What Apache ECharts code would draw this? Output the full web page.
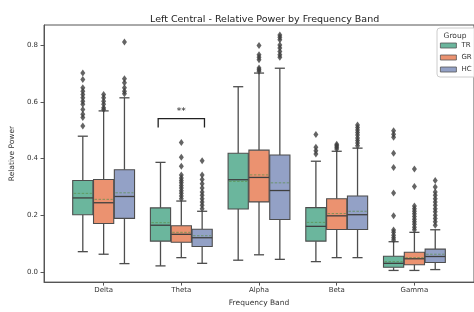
<!DOCTYPE html>
<html>
<head>
<meta charset="utf-8">
<script src="https://cdn.jsdelivr.net/npm/echarts@6/dist/echarts.min.js"></script>
<style>html,body{margin:0;padding:0;background:#fff;}#c{width:474px;height:312px;}</style>
</head>
<body>
<div id="c"></div>
<script>
// ---- data ----
const bands = ['Delta', 'Theta', 'Alpha', 'Beta', 'Gamma'];
const groups = ['TR', 'GR', 'HC'];
const yTicks = [0, 0.2, 0.4, 0.6, 0.8];
// each row: [lowWhisker, Q1, median, Q3, highWhisker, mean]
const trStats = [
  [0.073, 0.203, 0.262, 0.323, 0.479, 0.278],
  [0.023, 0.110, 0.166, 0.227, 0.387, 0.175],
  [0.043, 0.223, 0.326, 0.419, 0.653, 0.320],
  [0.038, 0.110, 0.162, 0.228, 0.391, 0.176],
  [0.007, 0.018, 0.032, 0.057, 0.108, 0.038]
];
const grStats = [
  [0.064, 0.172, 0.245, 0.327, 0.568, 0.257],
  [0.052, 0.106, 0.134, 0.164, 0.251, 0.141],
  [0.062, 0.248, 0.334, 0.430, 0.701, 0.343],
  [0.052, 0.151, 0.199, 0.259, 0.426, 0.207],
  [0.007, 0.027, 0.048, 0.071, 0.141, 0.052]
];
const hcStats = [
  [0.031, 0.190, 0.267, 0.361, 0.614, 0.280],
  [0.032, 0.091, 0.122, 0.152, 0.215, 0.129],
  [0.046, 0.186, 0.288, 0.413, 0.718, 0.315],
  [0.052, 0.151, 0.203, 0.269, 0.437, 0.215],
  [0.010, 0.035, 0.056, 0.082, 0.150, 0.064]
];
const trOut = [
  [0.701, 0.678, 0.649, 0.637, 0.626, 0.614, 0.602, 0.591, 0.573, 0.556, 0.545, 0.515],
  [],
  [],
  [0.485, 0.440, 0.428, 0.416],
  [0.498, 0.486, 0.475, 0.419, 0.369, 0.279, 0.199, 0.149, 0.141, 0.131, 0.122, 0.114]
];
const grOut = [
  [0.626, 0.614, 0.602, 0.591, 0.579, 0.573],
  [0.457, 0.405, 0.373, 0.343, 0.332, 0.323, 0.315, 0.306, 0.297, 0.287, 0.278, 0.269, 0.259],
  [0.798, 0.765, 0.757, 0.748, 0.719, 0.713, 0.707],
  [0.451, 0.445, 0.440, 0.434],
  [0.364, 0.302, 0.234, 0.224, 0.215, 0.206, 0.197, 0.187, 0.178, 0.169, 0.159, 0.150]
];
const hcOut = [
  [0.810, 0.681, 0.667, 0.649, 0.637, 0.628],
  [0.393, 0.343, 0.327, 0.312, 0.297, 0.283, 0.271, 0.259, 0.248, 0.236, 0.224],
  [0.835, 0.827, 0.818, 0.800, 0.789, 0.777, 0.765, 0.757],
  [0.518, 0.510, 0.501, 0.492, 0.483, 0.473, 0.464, 0.455, 0.445],
  [0.323, 0.300, 0.283, 0.271, 0.259, 0.248, 0.236, 0.224, 0.213, 0.201, 0.190, 0.178, 0.166]
];
// significance annotation
const sigBand = 'Theta';
const sigLabel = '**';
const sigTop = 0.541;
const sigBottom = 0.510;

// ---- styles ----
const colors = ['#6bb69d', '#eb9270', '#93a1c6'];
const lineColor = '#4d4d4d';
const font = 'DejaVu Sans';
const hueOffset = [-0.268, 0, 0.268];
const boxW = 0.26;

const allStats = [trStats, grStats, hcStats];
const allOut = [trOut, grOut, hcOut];

function renderBox(gi) {
  return function (params, api) {
    const x = api.value(0);
    const lo = api.value(1), q1 = api.value(2), med = api.value(3), q3 = api.value(4), hi = api.value(5), mean = api.value(6);
    const px = api.coord([x, 0])[0];
    const hw = api.size([boxW, 0])[0] / 2;
    const cw = hw / 2;
    const Y = v => api.coord([x, v])[1];
    const ls = { stroke: lineColor, lineWidth: 1.3 };
    return {
      type: 'group',
      children: [
        { type: 'line', shape: { x1: px, y1: Y(q3), x2: px, y2: Y(hi) }, style: ls },
        { type: 'line', shape: { x1: px, y1: Y(q1), x2: px, y2: Y(lo) }, style: ls },
        { type: 'line', shape: { x1: px - cw, y1: Y(hi), x2: px + cw, y2: Y(hi) }, style: ls },
        { type: 'line', shape: { x1: px - cw, y1: Y(lo), x2: px + cw, y2: Y(lo) }, style: ls },
        { type: 'rect', shape: { x: px - hw, y: Y(q3), width: 2 * hw, height: Y(q1) - Y(q3) },
          style: { fill: colors[gi], stroke: lineColor, lineWidth: 1.1 } },
        { type: 'line', shape: { x1: px - hw, y1: Y(med), x2: px + hw, y2: Y(med) },
          style: { stroke: '#3f3f3f', lineWidth: 1.3 } },
        { type: 'line', shape: { x1: px - hw + 1, y1: Y(mean), x2: px + hw - 1, y2: Y(mean) },
          style: { stroke: '#5a8f4a', lineWidth: 1, lineDash: [2.5, 1.5], opacity: 0.7 } }
      ]
    };
  };
}

const series = [];
groups.forEach((g, gi) => {
  series.push({
    name: g,
    type: 'custom',
    renderItem: renderBox(gi),
    itemStyle: { color: colors[gi] },
    encode: { x: 0, y: [1, 5] },
    data: allStats[gi].map((s, bi) => [bi + hueOffset[gi], s[0], s[1], s[2], s[3], s[4], s[5]]),
    z: 2
  });
});
const outPts = [];
groups.forEach((g, gi) => {
  allOut[gi].forEach((arr, bi) => arr.forEach(v => outPts.push([bi + hueOffset[gi], v])));
});
series.push({
  name: 'outliers',
  type: 'scatter',
  symbol: 'diamond',
  symbolSize: [5, 7],
  itemStyle: { color: '#3d3d3d' },
  data: outPts,
  z: 3
});
const sb = bands.indexOf(sigBand);
series.push({
  name: 'sig',
  type: 'custom',
  renderItem: function (params, api) {
    const x0 = api.coord([api.value(0) + hueOffset[0] - 0.03, api.value(2)]);
    const x1 = api.coord([api.value(0) + hueOffset[2] + 0.03, api.value(2)]);
    const yb = api.coord([api.value(0), api.value(1)])[1];
    return {
      type: 'group',
      children: [
        { type: 'polyline', shape: { points: [[x0[0], yb], [x0[0], x0[1]], [x1[0], x1[1]], [x1[0], yb]] },
          style: { stroke: '#222', lineWidth: 1.3, fill: null } },
        { type: 'text', x: (x0[0] + x1[0]) / 2, y: x0[1] - 2,
          style: { text: sigLabel, fontSize: 9, fontFamily: font, fill: '#222', align: 'center', verticalAlign: 'bottom' } }
      ]
    };
  },
  data: [[sb, sigBottom, sigTop]],
  z: 4
});

const chart = echarts.init(document.getElementById('c'), null, { renderer: 'canvas' });
chart.setOption({
  animation: false,
  textStyle: { fontFamily: font },
  title: {
    text: 'Left Central - Relative Power by Frequency Band',
    left: 145, top: 10,
    textStyle: { fontSize: 9.5, fontWeight: 'normal', color: '#222', fontFamily: font }
  },
  grid: { left: 42, right: -6, top: 25, bottom: 28, show: true, borderColor: '#555', borderWidth: 1, backgroundColor: '#fff' },
  legend: {
    data: groups.map((g, i) => ({ name: g, icon: 'rect', itemStyle: { color: colors[i], borderColor: '#555', borderWidth: 0.8 } })),
    orient: 'vertical',
    left: 437, top: 28,
    padding: [14, 16, 4, 3],
    itemWidth: 16, itemHeight: 5, itemGap: 5,
    textStyle: { fontSize: 7, color: '#333', fontFamily: font },
    borderColor: '#ccc', borderWidth: 1, borderRadius: 3,
    backgroundColor: 'rgba(255,255,255,0.85)',
    selectedMode: false
  },
  graphic: [{
    type: 'text', x: 455, y: 36, z: 100,
    style: { text: 'Group', fontSize: 7.5, fontFamily: font, fill: '#333', align: 'center', verticalAlign: 'middle' }
  }],
  xAxis: {
    type: 'value', min: -0.767, max: 4.767,
    splitLine: { show: false },
    axisLine: { onZero: false, lineStyle: { color: '#555' } },
    axisTick: { customValues: [0, 1, 2, 3, 4], length: 3.5, lineStyle: { color: '#555' } },
    axisLabel: { customValues: [0, 1, 2, 3, 4], formatter: v => bands[Math.round(v)], fontSize: 7, color: '#333', margin: 5 },
    name: 'Frequency Band', nameLocation: 'middle', nameGap: 16,
    nameTextStyle: { fontSize: 7.5, color: '#333' }
  },
  yAxis: {
    type: 'value', min: -0.034, max: 0.870,
    splitLine: { show: false },
    axisLine: { show: true, onZero: false, lineStyle: { color: '#555' } },
    axisTick: { show: true, customValues: yTicks, length: 3.5, lineStyle: { color: '#555' } },
    axisLabel: { customValues: yTicks, formatter: v => v.toFixed(1), fontSize: 7, color: '#333', margin: 6 },
    name: 'Relative Power', nameLocation: 'middle', nameGap: 27,
    nameTextStyle: { fontSize: 7.5, color: '#333' }
  },
  series: series
});
</script>
</body>
</html>
